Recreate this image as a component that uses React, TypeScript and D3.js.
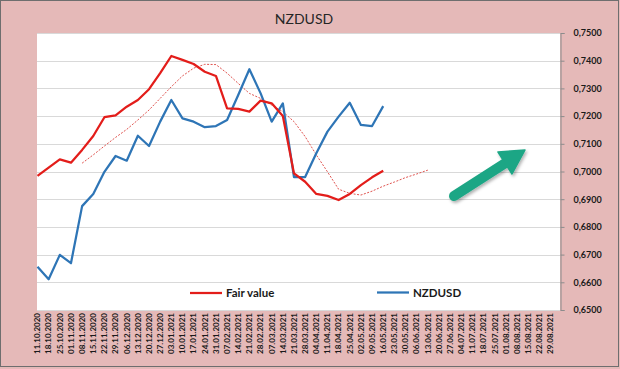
import React, { useEffect, useRef } from "react";
import * as d3 from "d3";

const dates = [
  "11.10.2020", "18.10.2020", "25.10.2020", "01.11.2020", "08.11.2020", "15.11.2020",
  "22.11.2020", "29.11.2020", "06.12.2020", "13.12.2020", "20.12.2020", "27.12.2020",
  "03.01.2021", "10.01.2021", "17.01.2021", "24.01.2021", "31.01.2021", "07.02.2021",
  "14.02.2021", "21.02.2021", "28.02.2021", "07.03.2021", "14.03.2021", "21.03.2021",
  "28.03.2021", "04.04.2021", "11.04.2021", "18.04.2021", "25.04.2021", "02.05.2021",
  "09.05.2021", "16.05.2021", "23.05.2021", "30.05.2021", "06.06.2021", "13.06.2021",
  "20.06.2021", "27.06.2021", "04.07.2021", "11.07.2021", "18.07.2021", "25.07.2021",
  "01.08.2021", "08.08.2021", "15.08.2021", "22.08.2021", "29.08.2021",
];

const fairValue = [
  0.6984, 0.7014, 0.7044, 0.7032, 0.7078, 0.7128, 0.7196, 0.7203, 0.7234, 0.7258,
  0.7297, 0.7355, 0.7417, 0.7403, 0.7388, 0.736, 0.7345, 0.7228, 0.7226, 0.7216,
  0.7256, 0.7246, 0.72, 0.6993, 0.6963, 0.6919, 0.6912, 0.6897, 0.6919, 0.6951,
  0.6979, 0.7003,
];

const nzdusd = [
  0.6656, 0.6611, 0.6699, 0.6669, 0.6875, 0.6919, 0.6999, 0.7056, 0.7039, 0.7129,
  0.7092, 0.718, 0.7258, 0.7192, 0.718, 0.716, 0.7164, 0.7186, 0.7276, 0.7369,
  0.7283, 0.718, 0.7246, 0.698, 0.698, 0.7066, 0.7144, 0.7198, 0.7248, 0.7168,
  0.7164, 0.7236,
];

// dotted trend of fair value, starts at 08.11.2020
const fairTrend = [
  null, null, null, null, 0.703, 0.706, 0.7092, 0.7123, 0.7152, 0.7186,
  0.7222, 0.7264, 0.7306, 0.7345, 0.7373, 0.7387, 0.7386, 0.7355, 0.7318, 0.7282,
  0.7264, 0.724, 0.7216, 0.718, 0.7126, 0.706, 0.6999, 0.6936, 0.6921, 0.6915,
  0.6929, 0.6947, 0.6962, 0.6978, 0.6991, 0.7005,
];

const yTicks = [0.65, 0.66, 0.67, 0.68, 0.69, 0.7, 0.71, 0.72, 0.73, 0.74, 0.75];

const App = () => {
  const ref = useRef<SVGSVGElement>(null);

  useEffect(() => {
    drawChart();
  }, []);

  const drawChart = () => {
    const svg = d3.select(ref.current);
    svg.selectAll("*").remove();

    const left = 37, right = 560, top = 33, bottom = 310;
    const font = "Lato, 'Open Sans', sans-serif";

    // background + frame
    svg.append("rect").attr("width", 620).attr("height", 369).attr("fill", "#e5b9b8");
    svg.append("rect").attr("x", 0.5).attr("y", 0.5).attr("width", 618).attr("height", 366)
      .attr("fill", "none").attr("stroke", "#6e6e6e");

    svg.append("rect").attr("x", left).attr("y", top).attr("width", right - left)
      .attr("height", bottom - top).attr("fill", "#ffffff");

    const x = d3.scalePoint<string>().domain(dates).range([37.5, 550.5]);
    const y = d3.scaleLinear().domain([0.65, 0.75]).range([bottom, top]);

    // grid
    svg.append("g").selectAll("line").data(yTicks).enter().append("line")
      .attr("x1", left).attr("x2", right)
      .attr("y1", (d) => Math.round(y(d)) + 0.5).attr("y2", (d) => Math.round(y(d)) + 0.5)
      .attr("stroke", "#d9d9d9").attr("stroke-width", 1);

    // right axis
    const yAxis = d3.axisRight(y).tickValues(yTicks).tickSize(4)
      .tickFormat((d) => d3.format(".4f")(d as number).replace(".", ","));
    const ga = svg.append("g").attr("transform", `translate(${right + 0.5},0)`).call(yAxis);
    ga.select(".domain").attr("stroke", "#8c8c8c");
    ga.selectAll(".tick line").attr("stroke", "#8c8c8c");
    ga.selectAll(".tick text").attr("x", 13).attr("fill", "#1a1a1a")
      .attr("font-family", font).attr("font-weight", "bold").attr("font-size", 9);

    // x labels
    svg.append("g").selectAll("text").data(dates).enter().append("text")
      .attr("transform", (d) => `translate(${x(d)},313) rotate(-90)`)
      .attr("dy", "0.35em").attr("text-anchor", "end")
      .attr("font-family", font).attr("font-weight", "bold").attr("font-size", 8)
      .attr("fill", "#1a1a1a").text((d) => d);

    const line = d3.line<number | null>()
      .defined((d) => d !== null)
      .x((d, i) => x(dates[i]) as number)
      .y((d) => y(d as number));

    svg.append("path").datum(fairTrend).attr("d", line).attr("fill", "none")
      .attr("stroke", "#e0534f").attr("stroke-width", 1).attr("stroke-dasharray", "2,1.5");
    svg.append("path").datum(nzdusd).attr("d", line).attr("fill", "none")
      .attr("stroke", "#2e75b6").attr("stroke-width", 2.25).attr("stroke-linejoin", "round");
    svg.append("path").datum(fairValue).attr("d", line).attr("fill", "none")
      .attr("stroke", "#e31d1a").attr("stroke-width", 2.25).attr("stroke-linejoin", "round");

    // legend
    const legend = [
      { name: "Fair value", color: "#e31d1a", x: 190, y: 293 },
      { name: "NZDUSD", color: "#2e75b6", x: 377, y: 292.5 },
    ];
    legend.forEach((l) => {
      svg.append("line").attr("x1", l.x).attr("x2", l.x + 32).attr("y1", l.y).attr("y2", l.y)
        .attr("stroke", l.color).attr("stroke-width", 2.25);
      svg.append("text").attr("x", l.x + 36).attr("y", l.y + 4).attr("font-family", font)
        .attr("font-weight", "bold").attr("font-size", 11.5).attr("fill", "#1a1a1a").text(l.name);
    });

    // title
    svg.append("text").attr("x", 304).attr("y", 24).attr("text-anchor", "middle")
      .attr("font-family", font).attr("font-size", 14).attr("fill", "#262626").text("NZDUSD");

    // green arrow
    const defs = svg.append("defs");
    const f = defs.append("filter").attr("id", "sh").attr("x", "-20%").attr("y", "-20%")
      .attr("width", "150%").attr("height", "150%");
    f.append("feDropShadow").attr("dx", 1.5).attr("dy", 2).attr("stdDeviation", 1.5)
      .attr("flood-color", "#000").attr("flood-opacity", 0.3);
    const arrow = svg.append("g").attr("filter", "url(#sh)");
    arrow.append("line").attr("x1", 454).attr("y1", 196).attr("x2", 507).attr("y2", 162)
      .attr("stroke", "#1fa685").attr("stroke-width", 10).attr("stroke-linecap", "round");
    arrow.append("path").attr("d", "M525,150 L512,174 L498,152 Z").attr("fill", "#1fa685")
      .attr("stroke", "#1fa685").attr("stroke-width", 1.5).attr("stroke-linejoin", "round");
  };

  return (
    <svg ref={ref} width={620} height={369}
      style={{ position: "absolute", left: 0, top: 0, display: "block" }} />
  );
};

export default App;
